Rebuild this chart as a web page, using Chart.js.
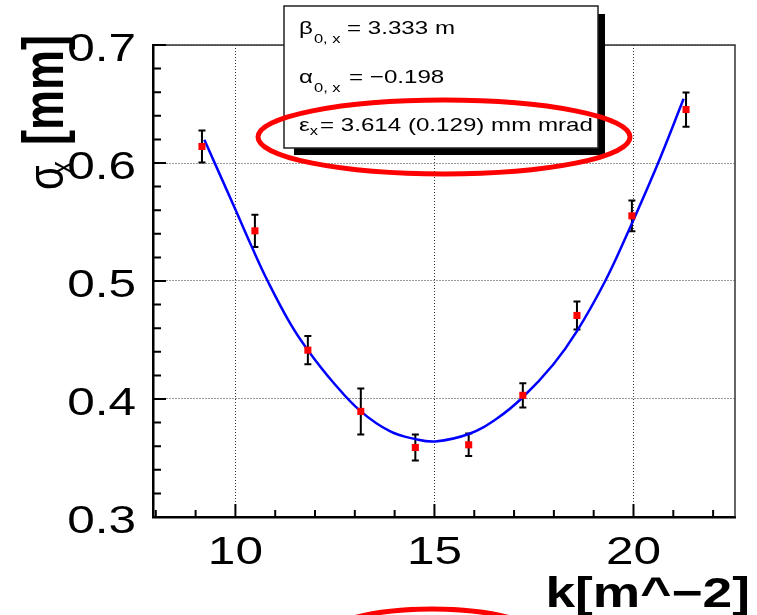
<!DOCTYPE html>
<html>
<head>
<meta charset="utf-8">
<script src="https://cdn.jsdelivr.net/npm/chart.js@4.4.0/dist/chart.umd.min.js"></script>
<style>
  body { margin: 0; background: #fff; }
  canvas { display: block; }
</style>
</head>
<body>
<canvas id="canvasSingle" width="757" height="615"></canvas>
<script>
// puntos medidos (k en m^-2, sigma_x en mm)
const kValues = [9.16, 10.49, 11.82, 13.15, 14.52, 15.86, 17.22, 18.58, 19.96, 21.32];
const sigmaValues = [0.614, 0.5425, 0.4414, 0.3895, 0.3589, 0.3612, 0.4031, 0.4708, 0.5552, 0.6453];
const sigmaErrors = [0.0135, 0.0137, 0.012, 0.0195, 0.011, 0.0096, 0.0103, 0.0118, 0.013, 0.0145];

// curva del ajuste
const fitK = [9.22, 10.0, 10.42, 10.81, 11.38, 11.82, 12.47, 13.15, 13.89, 14.52, 15.02, 15.86, 16.57, 17.22, 17.99, 18.58, 19.29, 19.83, 20.59, 21.26];
const fitSigma = [0.6198, 0.5605, 0.5283, 0.500, 0.4638, 0.4414, 0.4136, 0.3895, 0.3725, 0.366, 0.364, 0.3703, 0.3835, 0.4015, 0.4295, 0.4575, 0.500, 0.539, 0.5977, 0.6544];

const xTicks = [10, 15, 20];
const xMinorTicks = [8, 9, 11, 12, 13, 14, 16, 17, 18, 19, 21, 22];
const yTicks = [0.3, 0.4, 0.5, 0.6, 0.7];
const yMinorTicks = [0.32, 0.34, 0.36, 0.38, 0.42, 0.44, 0.46, 0.48, 0.52, 0.54, 0.56, 0.58, 0.62, 0.64, 0.66, 0.68];

const FONT = '"Liberation Sans", Arial, Helvetica, sans-serif';
const SX = 1.27; // la imagen original esta estirada en horizontal

function drawText(ctx, text, x, y, font, align) {
    ctx.save();
    ctx.font = font;
    ctx.translate(x, y);
    ctx.scale(SX, 1);
    ctx.textAlign = align || 'left';
    ctx.textBaseline = 'alphabetic';
    ctx.fillText(text, 0, 0);
    const w = ctx.measureText(text).width * SX;
    ctx.restore();
    return w;
}

const errorBars = {
    id: 'errorBars',
    beforeDatasetsDraw(chart) {
        const { ctx, scales: { x, y } } = chart;
        ctx.save();
        ctx.strokeStyle = '#000';
        ctx.lineWidth = 2;
        kValues.forEach((k, i) => {
            const px = x.getPixelForValue(k);
            const top = y.getPixelForValue(sigmaValues[i] + sigmaErrors[i]);
            const bot = y.getPixelForValue(sigmaValues[i] - sigmaErrors[i]);
            ctx.beginPath();
            ctx.moveTo(px, top); ctx.lineTo(px, bot);
            ctx.moveTo(px - 3.5, top); ctx.lineTo(px + 3.5, top);
            ctx.moveTo(px - 3.5, bot); ctx.lineTo(px + 3.5, bot);
            ctx.stroke();
        });
        ctx.restore();
    }
};

const rootAxes = {
    id: 'rootAxes',
    afterDatasetsDraw(chart) {
        const { ctx, chartArea: a, scales: { x, y } } = chart;
        ctx.save();
        // marco arriba y a la derecha
        ctx.strokeStyle = '#333';
        ctx.lineWidth = 1.5;
        ctx.beginPath();
        ctx.moveTo(a.left, a.top); ctx.lineTo(a.right, a.top); ctx.lineTo(a.right, a.bottom);
        ctx.stroke();

        // ticks hacia dentro, estilo ROOT
        ctx.strokeStyle = '#000';
        ctx.lineWidth = 2;
        ctx.beginPath();
        xTicks.forEach(v => { const p = x.getPixelForValue(v); ctx.moveTo(p, a.bottom); ctx.lineTo(p, a.bottom - 13); });
        xMinorTicks.forEach(v => { const p = x.getPixelForValue(v); ctx.moveTo(p, a.bottom); ctx.lineTo(p, a.bottom - 7); });
        yTicks.forEach(v => { const p = y.getPixelForValue(v); ctx.moveTo(a.left, p); ctx.lineTo(a.left + 13, p); });
        yMinorTicks.forEach(v => { const p = y.getPixelForValue(v); ctx.moveTo(a.left, p); ctx.lineTo(a.left + 8, p); });
        ctx.stroke();

        ctx.fillStyle = '#000';
        xTicks.forEach(v => drawText(ctx, String(v), x.getPixelForValue(v), 564, '39px ' + FONT, 'center'));
        yTicks.forEach(v => drawText(ctx, v.toFixed(1), 136, y.getPixelForValue(v) + 16, '39px ' + FONT, 'right'));
        // trozo del grafico de abajo que asoma
        drawText(ctx, '0.7', 136, 648, '39px ' + FONT, 'right');
        ctx.restore();
    },
    afterDraw(chart) {
        const ctx = chart.ctx;
        ctx.save();
        ctx.fillStyle = '#000';

        // titulo eje x
        drawText(ctx, 'k[m^\u22122]', 750, 607, 'bold 42px ' + FONT, 'right');

        // titulo eje y (rotado)
        ctx.save();
        ctx.translate(63, 190);
        ctx.rotate(-Math.PI / 2);
        ctx.scale(1, SX);
        ctx.textBaseline = 'alphabetic';
        ctx.font = '40px ' + FONT;
        ctx.fillText('\u03c3', 0, 0);
        const ws = ctx.measureText('\u03c3').width;
        ctx.font = '26px ' + FONT;
        ctx.fillText('x', ws - 9, 8);
        ctx.font = 'bold 45px ' + FONT;
        ctx.fillText('[mm]', 45, 0);
        ctx.restore();

        // caja de parametros
        ctx.fillStyle = '#000';
        ctx.fillRect(598, 14, 7, 141);
        ctx.fillRect(294, 148, 311, 7);
        ctx.fillStyle = '#fff';
        ctx.fillRect(284, 6, 314, 142);
        ctx.strokeStyle = '#222';
        ctx.lineWidth = 1.5;
        ctx.strokeRect(284, 6, 314, 142);

        ctx.fillStyle = '#000';
        const f = '19px ' + FONT;
        const fs = '13px ' + FONT;
        let w = drawText(ctx, '\u03b2', 299, 34, f);
        drawText(ctx, '0, x', 299 + w + 1, 43, fs);
        drawText(ctx, '= 3.333 m', 347, 34, f);
        w = drawText(ctx, '\u03b1', 299, 83, f);
        drawText(ctx, '0, x', 299 + w + 1, 92, fs);
        drawText(ctx, '= \u22120.198', 349, 83, f);
        w = drawText(ctx, '\u03b5', 299, 131, f);
        drawText(ctx, 'x', 299 + w, 135, fs);
        drawText(ctx, '= 3.614 (0.129) mm mrad', 320, 131, f);

        // elipses rojas
        ctx.strokeStyle = '#f00';
        ctx.lineWidth = 5;
        ctx.beginPath();
        ctx.ellipse(444, 137, 186, 37, 0, 0, Math.PI * 2);
        ctx.stroke();
        ctx.beginPath();
        ctx.ellipse(432, 639, 110, 30, 0, 0, Math.PI * 2);
        ctx.stroke();
        ctx.restore();
    }
};

const config = {
    type: 'scatter',
    data: {
        datasets: [{
            label: 'sigma',
            data: kValues.map((k, i) => ({ x: k, y: sigmaValues[i] })),
            backgroundColor: '#ff0000',
            borderWidth: 0,
            pointStyle: 'rect',
            pointRadius: 5,
            order: 0
        }, {
            type: 'line',
            label: 'fit',
            data: fitK.map((k, i) => ({ x: k, y: fitSigma[i] })),
            borderColor: '#0000ff',
            borderWidth: 2.5,
            pointRadius: 0,
            tension: 0.4,
            fill: false,
            order: 1
        }]
    },
    options: {
        responsive: false,
        animation: false,
        events: [],
        layout: { padding: { top: 45, right: 22, left: 0, bottom: 0 } },
        plugins: {
            legend: { display: false },
            tooltip: { enabled: false }
        },
        scales: {
            x: {
                type: 'linear',
                min: 7.93,
                max: 22.55,
                afterBuildTicks: s => { s.ticks = xTicks.map(v => ({ value: v })); },
                afterFit: s => { s.height = 98; },
                ticks: { display: false },
                grid: { color: '#333', lineWidth: 1, drawTicks: false },
                border: { color: '#000', width: 2.5, dash: [1, 2] }
            },
            y: {
                type: 'linear',
                min: 0.3,
                max: 0.7,
                afterBuildTicks: s => { s.ticks = yTicks.map(v => ({ value: v })); },
                afterFit: s => { s.width = 153; },
                ticks: { display: false },
                grid: { color: '#333', lineWidth: 1, drawTicks: false },
                border: { color: '#000', width: 2.5, dash: [1, 2] }
            }
        }
    },
    plugins: [errorBars, rootAxes]
};

const myChart = new Chart(document.getElementById('canvasSingle'), config);
</script>
</body>
</html>
